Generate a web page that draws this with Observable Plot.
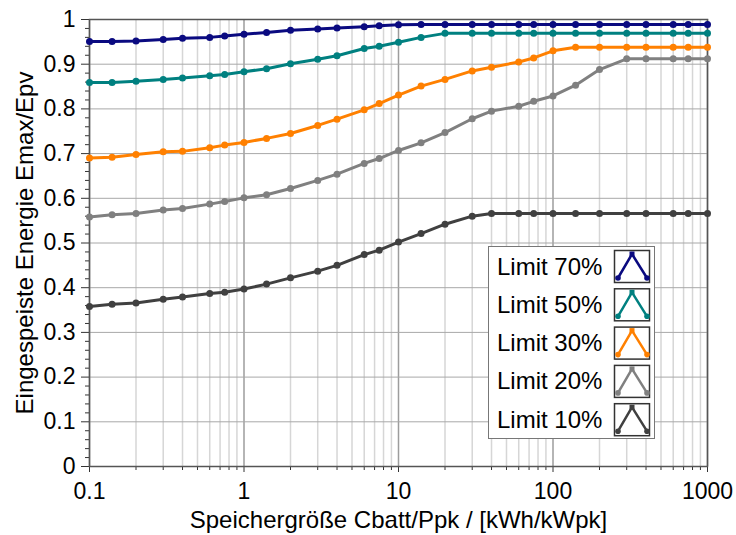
<!DOCTYPE html>
<html>
<head>
<meta charset="utf-8">
<script src="https://cdn.jsdelivr.net/npm/d3@7"></script>
<script src="https://cdn.jsdelivr.net/npm/@observablehq/plot@0.6"></script>
<style>
  html, body { margin: 0; padding: 0; background: #fff; }
</style>
</head>
<body>
<div id="chart"></div>
<script>
// ---- data ----
const xs = [0.1, 0.14, 0.2, 0.3, 0.4, 0.6, 0.75, 1, 1.4, 2, 3, 4, 6, 7.5, 10,
            14, 20, 30, 40, 60, 75, 100, 140, 200, 300, 400, 600, 750, 1000];
const seriesNames = ["Limit 70%", "Limit 50%", "Limit 30%", "Limit 20%", "Limit 10%"];
const seriesColors = ["#0a0a80", "#008080", "#ff8000", "#808080", "#404040"];
const limit70 = [0.951, 0.951, 0.952, 0.955, 0.958, 0.960, 0.963, 0.967, 0.971, 0.976, 0.979, 0.981, 0.984, 0.986, 0.988,
                 0.989, 0.989, 0.989, 0.989, 0.989, 0.989, 0.989, 0.989, 0.989, 0.989, 0.989, 0.989, 0.989, 0.989];
const limit50 = [0.859, 0.859, 0.862, 0.866, 0.869, 0.874, 0.877, 0.883, 0.890, 0.901, 0.911, 0.919, 0.935, 0.940, 0.949,
                 0.960, 0.969, 0.969, 0.969, 0.969, 0.969, 0.969, 0.969, 0.969, 0.969, 0.969, 0.969, 0.969, 0.969];
const limit30 = [0.690, 0.692, 0.698, 0.704, 0.705, 0.713, 0.719, 0.725, 0.734, 0.745, 0.763, 0.777, 0.798, 0.812, 0.831,
                 0.851, 0.866, 0.885, 0.893, 0.905, 0.914, 0.930, 0.938, 0.938, 0.938, 0.938, 0.938, 0.938, 0.938];
const limit20 = [0.558, 0.563, 0.566, 0.574, 0.577, 0.587, 0.593, 0.601, 0.608, 0.622, 0.640, 0.654, 0.678, 0.689, 0.707,
                 0.724, 0.747, 0.778, 0.795, 0.806, 0.817, 0.829, 0.853, 0.888, 0.912, 0.912, 0.912, 0.912, 0.912];
const limit10 = [0.358, 0.363, 0.366, 0.374, 0.379, 0.387, 0.390, 0.397, 0.408, 0.422, 0.437, 0.450, 0.474, 0.484, 0.502,
                 0.521, 0.542, 0.560, 0.566, 0.566, 0.566, 0.566, 0.566, 0.566, 0.566, 0.566, 0.566, 0.566, 0.566];
const xMajorTicks = [0.1, 1, 10, 100, 1000];
const xMinorTicks = [0.2, 0.3, 0.4, 0.5, 0.6, 0.7, 0.8, 0.9,
                     2, 3, 4, 5, 6, 7, 8, 9,
                     20, 30, 40, 50, 60, 70, 80, 90,
                     200, 300, 400, 500, 600, 700, 800, 900];
const yTicks = [0, 0.1, 0.2, 0.3, 0.4, 0.5, 0.6, 0.7, 0.8, 0.9, 1];
const yMinorTicks = [0.02, 0.04, 0.06, 0.08, 0.12, 0.14, 0.16, 0.18, 0.22, 0.24, 0.26, 0.28,
                     0.32, 0.34, 0.36, 0.38, 0.42, 0.44, 0.46, 0.48, 0.52, 0.54, 0.56, 0.58,
                     0.62, 0.64, 0.66, 0.68, 0.72, 0.74, 0.76, 0.78, 0.82, 0.84, 0.86, 0.88,
                     0.92, 0.94, 0.96, 0.98];
const xLabel = "Speichergröße Cbatt/Ppk / [kWh/kWpk]";
const yLabel = "Eingespeiste Energie Emax/Epv";

const allSeries = [limit70, limit50, limit30, limit20, limit10];
const rows = seriesNames.flatMap((name, i) => xs.map((x, j) => ({series: name, x, y: allSeries[i][j]})));

const FONT = "'Liberation Sans', Arial, Helvetica, sans-serif";

const chart = Plot.plot({
  width: 736,
  height: 535,
  marginLeft: 89,
  marginRight: 29,
  marginTop: 19,
  marginBottom: 69,
  style: {fontFamily: FONT, fontSize: "23px", color: "#000", background: "#fff", overflow: "visible"},
  x: {type: "log", domain: [0.1, 1000]},
  y: {domain: [0, 1]},
  color: {domain: seriesNames, range: seriesColors},
  marks: [
    Plot.gridX(xMinorTicks, {stroke: "#d6d6d6", strokeOpacity: 1, strokeWidth: 1.5}),
    Plot.gridX(xMajorTicks, {stroke: "#9c9c9c", strokeOpacity: 1, strokeWidth: 1.5}),
    Plot.gridY(yTicks, {stroke: "#a8a8a8", strokeOpacity: 1, strokeWidth: 1}),
    Plot.axisX(xMinorTicks, {tickSize: 4, tickFormat: () => "", label: null, stroke: "#333"}),
    Plot.axisX(xMajorTicks, {tickSize: 6, tickPadding: 10, tickFormat: d => String(d), label: null,
                             fontSize: 23, fill: "#000", stroke: "#333"}),
    Plot.axisY(yMinorTicks, {tickSize: 4, tickFormat: () => "", label: null, stroke: "#333"}),
    Plot.axisY(yTicks, {tickSize: 8, tickPadding: 6, tickFormat: d => String(d), label: null,
                        fontSize: 23, fill: "#000", stroke: "#333"}),
    Plot.frame({stroke: "#555", strokeWidth: 1.5}),
    Plot.line(rows, {x: "x", y: "y", z: "series", stroke: "series", strokeWidth: 3}),
    Plot.dot(rows, {x: "x", y: "y", fill: "series", r: 3.5}),
    Plot.text([xLabel], {text: d => d, frameAnchor: "bottom", dy: 54, fontSize: 24, fill: "#000",
                         lineAnchor: "middle", textAnchor: "middle"}),
    Plot.text([yLabel], {text: d => d, frameAnchor: "left", rotate: -90, dx: -64.5, fontSize: 24, fill: "#000",
                         lineAnchor: "middle", textAnchor: "middle"})
  ]
});

document.getElementById("chart").appendChild(chart);

// ---- in-plot legend (decorative box, positions in pixels) ----
const svg = d3.select(chart);
const lg = svg.append("g").attr("font-family", FONT).attr("font-size", 24).attr("text-anchor", "start");
lg.append("rect").attr("x", 488.5).attr("y", 246.5).attr("width", 166).attr("height", 192)
  .attr("fill", "#fff").attr("stroke", "#777").attr("stroke-width", 1);
seriesNames.forEach((name, i) => {
  const y0 = 250 + i * 38.3;
  lg.append("text").attr("x", 497).attr("y", y0 + 24.5).attr("fill", "#000")
    .attr("text-anchor", "start").text(name);
  const b = lg.append("g").attr("transform", `translate(614,${y0})`);
  b.append("rect").attr("x", 0.5).attr("y", 0.5).attr("width", 35).attr("height", 32)
    .attr("fill", "#fff").attr("stroke", "#333").attr("stroke-width", 1.5);
  b.append("polyline").attr("points", "4,28 18,4 33,28").attr("fill", "none")
    .attr("stroke", seriesColors[i]).attr("stroke-width", 2.5);
  b.append("rect").attr("x", 15.5).attr("y", 1.5).attr("width", 5).attr("height", 5).attr("fill", seriesColors[i]);
  b.append("circle").attr("cx", 4).attr("cy", 28).attr("r", 2.8).attr("fill", seriesColors[i]);
  b.append("circle").attr("cx", 33).attr("cy", 28).attr("r", 2.8).attr("fill", seriesColors[i]);
});
</script>
</body>
</html>
